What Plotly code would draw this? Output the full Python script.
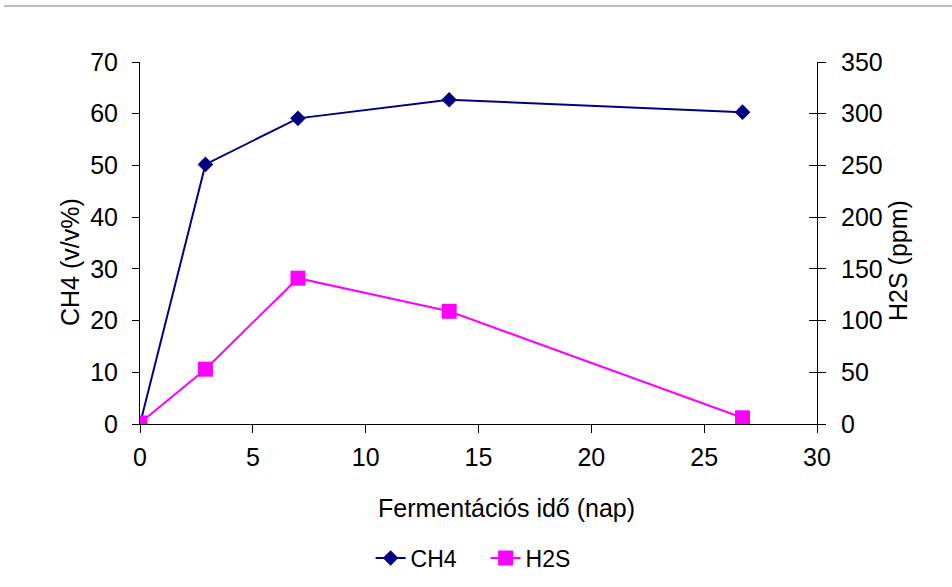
import plotly.graph_objects as go

days_ch4 = [0, 2.9, 7.0, 13.7, 26.7]
ch4 = [0, 50.2, 59.1, 62.7, 60.3]
days_h2s = [0, 2.9, 7.0, 13.7, 26.7]
h2s = [1, 53, 141, 109, 6]
x_ticks = [0, 5, 10, 15, 20, 25, 30]
y1_ticks = [0, 10, 20, 30, 40, 50, 60, 70]
y2_ticks = [0, 50, 100, 150, 200, 250, 300, 350]

FONT = "Arial, Liberation Sans, sans-serif"
FS = 25
fig = go.Figure()
fig.add_trace(go.Scatter(x=days_ch4, y=ch4, name="CH4", mode="lines+markers",
                         line=dict(color="#000080", width=2),
                         marker=dict(symbol="diamond", size=12, color="#000080"),
                         yaxis="y"))
fig.add_trace(go.Scatter(x=days_h2s, y=h2s, name="H2S", mode="lines+markers",
                         line=dict(color="#FF00FF", width=2),
                         marker=dict(symbol="square", size=15, color="#FF00FF"),
                         yaxis="y2"))
# invisible trace for crossing ticks on right axis
fig.add_trace(go.Scatter(x=[None], y=[None], yaxis="y3", showlegend=False))

axis_common = dict(showgrid=False, zeroline=False, showline=True, linecolor="#000",
                   linewidth=1, tickcolor="#000", tickwidth=1,
                   tickfont=dict(family=FONT, size=FS, color="#000"))
fig.update_layout(
    width=952, height=587,
    paper_bgcolor="white", plot_bgcolor="white",
    margin=dict(l=140, r=135, t=62, b=163),
    font=dict(family=FONT, size=FS, color="#000"),
    xaxis=dict(range=[0, 30], tickvals=x_ticks, ticks="outside", ticklen=8,
               ticklabelstandoff=3, **axis_common),
    yaxis=dict(range=[0, 70], tickvals=y1_ticks, ticks="outside", ticklen=7,
               ticklabelstandoff=9, **axis_common),
    yaxis2=dict(range=[0, 350], tickvals=y2_ticks, ticks="outside", ticklen=8,
                ticklabelstandoff=10, overlaying="y", side="right", anchor="x",
                **axis_common),
    yaxis3=dict(range=[0, 350], tickvals=y2_ticks, ticks="inside", ticklen=8,
                overlaying="y", side="right", anchor="x", showticklabels=False,
                showgrid=False, zeroline=False, showline=False, tickcolor="#000"),
    legend=dict(orientation="h", x=486 / 952, xanchor="center",
                yref="container", y=(587 - 558) / 587, yanchor="middle",
                entrywidth=70,
                font=dict(family=FONT, size=23, color="#000")),
    showlegend=True,
)
fig.add_annotation(text="Fermentációs idő (nap)", xref="paper", yref="paper",
                   x=(507 - 140) / 677, y=(424 - 508) / 362, showarrow=False,
                   xanchor="center", yanchor="middle",
                   font=dict(family=FONT, size=FS, color="#000"))
fig.add_annotation(text="CH4 (v/v%)", xref="paper", yref="paper", textangle=-90,
                   x=(70 - 140) / 677, y=(424 - 262) / 362, showarrow=False,
                   xanchor="center", yanchor="middle",
                   font=dict(family=FONT, size=FS, color="#000"))
fig.add_annotation(text="H2S (ppm)", xref="paper", yref="paper", textangle=-90,
                   x=(898 - 140) / 677, y=(424 - 261) / 362, showarrow=False,
                   xanchor="center", yanchor="middle",
                   font=dict(family=FONT, size=FS, color="#000"))
fig.add_shape(type="line", xref="paper", yref="paper",
              x0=(4 - 140) / 677, x1=(952 - 140) / 677,
              y0=(424 - 6) / 362, y1=(424 - 6) / 362,
              line=dict(color="#BBBBBB", width=2))
fig.write_html("out.html")
